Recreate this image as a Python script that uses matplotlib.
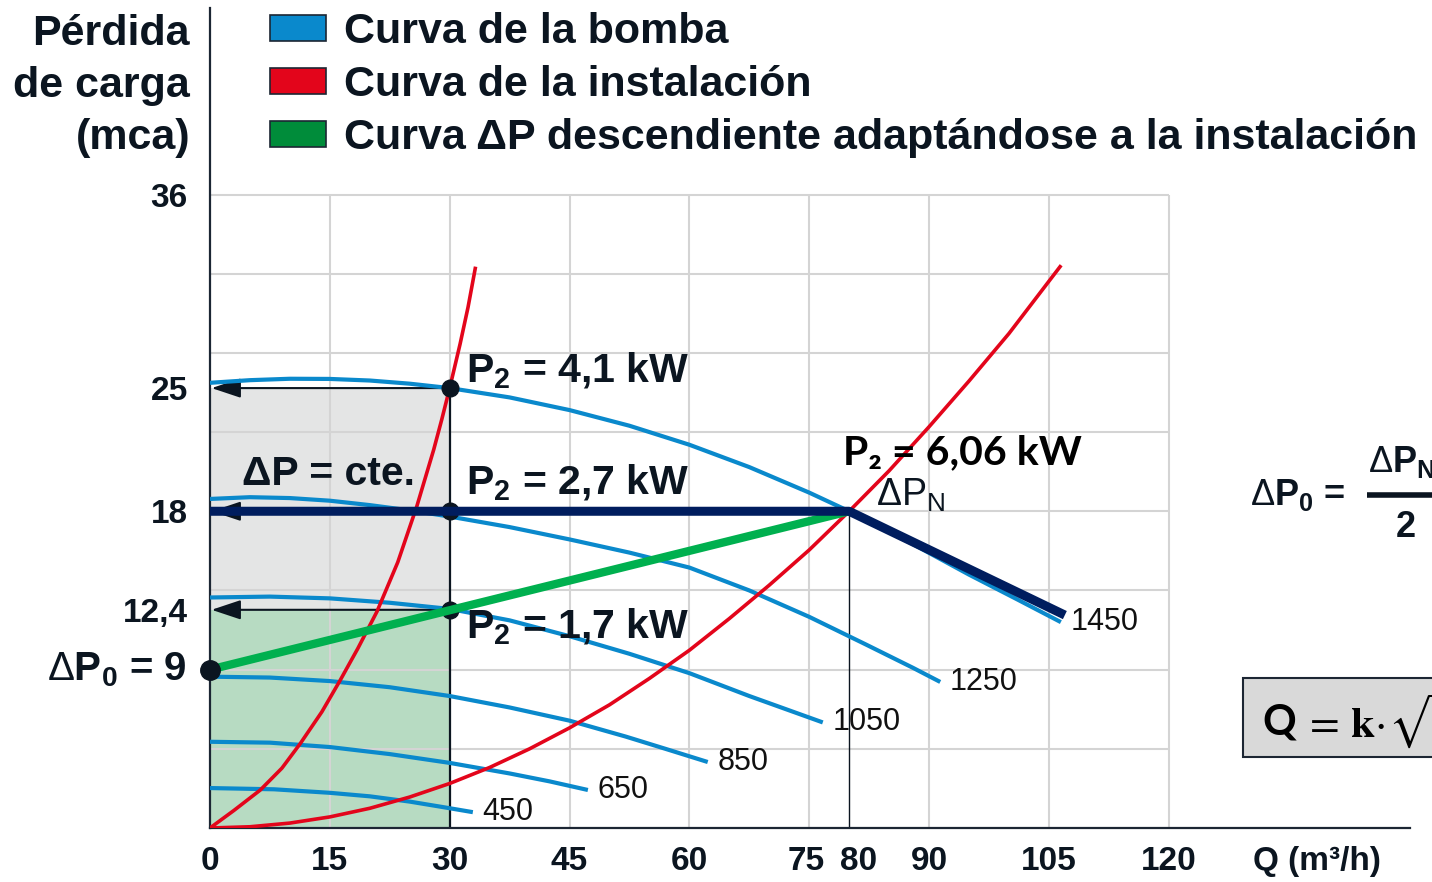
import matplotlib
matplotlib.use("Agg")
import matplotlib.pyplot as plt
from matplotlib.patches import Rectangle, Patch
from matplotlib.transforms import ScaledTranslation

plt.rcParams['font.family'] = ['Liberation Sans', 'DejaVu Sans']
plt.rcParams['mathtext.fontset'] = 'custom'
plt.rcParams['mathtext.rm'] = 'Liberation Sans'
plt.rcParams['mathtext.bf'] = 'Liberation Sans:bold'
plt.rcParams['mathtext.it'] = 'Liberation Sans:italic'

# ---------------- data ----------------
x_ticks = [0, 15, 30, 45, 60, 75, 80, 90, 105, 120]
y_ticks = [36, 25, 18, 12.4]
y_tick_labels = ["36", "25", "18", "12,4"]
grid_x = [15, 30, 45, 60, 75, 90, 105, 120]
grid_y = [4.5, 9, 13.5, 18, 22.5, 27, 31.5, 36]

# pump curves (rpm -> points)
pump_q_1450 = [0, 5, 10, 15, 20, 25, 30, 37.5, 45, 52.5, 60, 67.5, 75, 80, 87.5, 95, 101, 106.5]
pump_h_1450 = [25.3, 25.45, 25.53, 25.52, 25.43, 25.25, 25.0, 24.47, 23.75, 22.86, 21.78,
               20.51, 19.06, 18.0, 16.25, 14.4, 13.0, 11.7]
pump_q_1250 = [0, 5, 10, 15, 20, 25, 30, 37.5, 45, 52.5, 60, 67.5, 75, 82, 88, 91.4]
pump_h_1250 = [18.7, 18.8, 18.75, 18.6, 18.35, 18.05, 17.7, 17.1, 16.4, 15.65, 14.8,
               13.5, 12.0, 10.45, 9.1, 8.3]
pump_q_1050 = [0, 7.5, 15, 22.5, 30, 37.5, 45, 52.5, 60, 67.5, 76.7]
pump_h_1050 = [13.1, 13.15, 13.05, 12.8, 12.45, 11.8, 10.9, 9.9, 8.8, 7.5, 6.0]
pump_q_850 = [0, 7.5, 15, 22.5, 30, 37.5, 45, 52, 57, 62.3]
pump_h_850 = [8.6, 8.55, 8.35, 8.0, 7.5, 6.85, 6.1, 5.2, 4.5, 3.75]
pump_q_650 = [0, 7.5, 15, 22.5, 30, 37.5, 42.5, 47.3]
pump_h_650 = [4.9, 4.85, 4.6, 4.2, 3.7, 3.1, 2.65, 2.16]
pump_q_450 = [0, 8, 15, 20, 25, 29, 32.9]
pump_h_450 = [2.27, 2.2, 2.0, 1.8, 1.5, 1.2, 0.9]
pump_labels = ["1450", "1250", "1050", "850", "650", "450"]

# installation curves
inst_q_a = [0, 3, 6.3, 9, 11.3, 14, 16.3, 18.5, 20.9, 23.5, 25.9, 28, 29, 30, 31.3, 32.3, 33.2]
inst_h_a = [0, 1.0, 2.16, 3.4, 4.8, 6.6, 8.4, 10.2, 12.3, 15.1, 18.3, 21.5, 23.2, 25.0,
            27.5, 29.6, 31.8]
inst_q_b = [0, 5, 10, 15, 20, 25, 30, 35, 40, 45, 50, 55, 60, 65, 70, 75, 80, 85, 90, 95,
            100, 106.4]
inst_h_b = [0, 0.07, 0.28, 0.63, 1.12, 1.76, 2.53, 3.44, 4.5, 5.69, 7.0, 8.5, 10.1, 11.9,
            13.8, 15.8, 18.0, 20.3, 22.8, 25.4, 28.1, 31.9]

# control curves
const_q = [0, 80, 107]
const_h = [18, 18, 12.1]
desc_q = [0, 80]
desc_h = [9, 18]

# operating points
op_q = [30, 30, 30]
op_h = [25, 18, 12.4]
op_labels = ["4,1", "2,7", "1,7"]
dp0 = 9
dpn_q, dpn_h = 80, 18

BLUE = '#0a89cc'
RED = '#e3051b'
NAVY = '#001d5e'
GREEN = '#00b04f'
DARK = '#0b1520'

fig = plt.figure(figsize=(14.32, 8.82), dpi=100)
ax = fig.add_axes([210 / 1432, 54 / 882, 1200 / 1432, 820 / 882])
ax.set_xlim(0, 150.2)
ax.set_ylim(0, 46.6)
for s in ['top', 'right']:
    ax.spines[s].set_visible(False)
for s in ['left', 'bottom']:
    ax.spines[s].set_color('#1c2633')
    ax.spines[s].set_linewidth(1.6)

# shaded areas
ax.add_patch(Rectangle((0, 0), op_q[0], op_h[0], fc='#e4e5e5', ec='none', zorder=0))
ax.add_patch(Rectangle((0, 0), op_q[2], op_h[2], fc='#b7dbc2', ec='none', zorder=0.5))

# grid
ax.vlines(grid_x, 0, 36, colors='#d4d4d4', lw=1.5, zorder=1)
ax.hlines(grid_y, 0, 120, colors='#d4d4d4', lw=1.5, zorder=1)

# guide lines
ax.vlines([op_q[0]], 0, op_h[0], colors=DARK, lw=1.6, zorder=2)
ax.vlines([dpn_q], 0, dpn_h, colors=DARK, lw=1.0, zorder=2)
for q, h in zip(op_q, op_h):
    ax.annotate('', xy=(0.2, h), xytext=(q, h),
                arrowprops=dict(arrowstyle='-|>,head_length=1.2,head_width=0.4',
                                mutation_scale=15, color=DARK, lw=1.5,
                                shrinkA=0, shrinkB=0), zorder=2)

# pump curves
pumps = [(pump_q_1450, pump_h_1450), (pump_q_1250, pump_h_1250),
         (pump_q_1050, pump_h_1050), (pump_q_850, pump_h_850),
         (pump_q_650, pump_h_650), (pump_q_450, pump_h_450)]
for (q, h), lab in zip(pumps, pump_labels):
    ax.plot(q, h, color=BLUE, lw=3, zorder=3, solid_capstyle='butt',
            solid_joinstyle='round')
    ax.text(q[-1] + 1.2, h[-1], lab, fontsize=22, ha='left', va='center',
            color='#111111', zorder=6)

# installation curves
ax.plot(inst_q_a, inst_h_a, color=RED, lw=2.6, zorder=3, solid_joinstyle='round')
ax.plot(inst_q_b, inst_h_b, color=RED, lw=2.6, zorder=3, solid_joinstyle='round')

# points (under the control lines)
ax.plot(op_q, op_h, 'o', color=DARK, ms=12, zorder=3.5)

# control curves
ax.plot(desc_q, desc_h, color=GREEN, lw=6, zorder=4, solid_capstyle='butt')
ax.plot(const_q, const_h, color=NAVY, lw=6.5, zorder=4, solid_capstyle='butt')

ax.plot([0], [dp0], 'o', color=DARK, ms=14, zorder=5, clip_on=False)

# operating-point labels
for q, h, lab, dy in zip(op_q, op_h, op_labels, [0.95, 1.6, -1.0]):
    ax.text(q + 2.1, h + dy, r'$\mathbf{P_2}$ = ' + lab + ' kW', fontsize=29.5,
            fontweight='bold', ha='left', va='center', color=DARK, zorder=6)
ax.text(79.2, 21.3, 'P₂ = 6,06 kW', fontsize=29.5, fontweight='bold',
        family=['Lato', 'DejaVu Sans'], ha='left', va='center', color='black', zorder=6)
ax.text(83.3, 18.9, r'$\Delta\mathrm{P}_\mathrm{N}$', fontsize=27, ha='left',
        va='center', color=DARK, zorder=6)
ax.text(4.0, 20.1, 'ΔP = cte.', fontsize=29.5, fontweight='bold', ha='left',
        va='center', color=DARK, zorder=6)
ax.text(-2.9, dp0, r'$\Delta\mathbf{P_0}$ = 9', fontsize=29, fontweight='bold',
        ha='right', va='center', color=DARK, clip_on=False)

# ticks
ax.set_xticks(x_ticks)
ax.set_xticklabels([str(v) for v in x_ticks])
ax.set_yticks(y_ticks)
ax.set_yticklabels(y_tick_labels)
ax.tick_params(axis='x', length=0, pad=13, labelsize=24, labelcolor=DARK)
ax.tick_params(axis='y', length=0, pad=16, labelsize=24, labelcolor=DARK)
for t in ax.get_xticklabels() + ax.get_yticklabels():
    t.set_fontweight('bold')
for t, v in zip(ax.get_xticklabels(), x_ticks):
    if v == 80:
        t.set_transform(t.get_transform() + ScaledTranslation(7 / 72, 0, fig.dpi_scale_trans))
    if v == 75:
        t.set_transform(t.get_transform() + ScaledTranslation(-2 / 72, 0, fig.dpi_scale_trans))
ax.text(138.5, -1.9, 'Q (m³/h)', fontsize=24, fontweight='bold', ha='center',
        va='center', color=DARK, clip_on=False)

# y label
fig.text(190 / 1432, 1 - 86 / 882, 'Pérdida\nde carga\n(mca)', fontsize=31,
         fontweight='bold', ha='right', va='center', ma='right',
         linespacing=1.4, color=DARK)

# legend
handles = [Patch(fc=BLUE, ec='#1c2633', lw=1.2, label='Curva de la bomba'),
           Patch(fc=RED, ec='#1c2633', lw=1.2, label='Curva de la instalación'),
           Patch(fc='#008c3a', ec='#1c2633', lw=1.2,
                 label='Curva ΔP descendiente adaptándose a la instalación')]
leg = fig.legend(handles=handles, loc='upper left',
                 bbox_to_anchor=(270 / 1432, 1 - 12 / 882), frameon=False,
                 prop={'weight': 'bold', 'size': 31}, handlelength=1.3,
                 handleheight=0.56, handletextpad=0.42, labelspacing=0.3,
                 borderaxespad=0, borderpad=0)
for t in leg.get_texts():
    t.set_color(DARK)

# right-hand formulas
ax.text(130.2, 18.9, r'$\Delta\mathbf{P_0}$ =', fontsize=26, fontweight='bold',
        ha='left', va='center', color=DARK, clip_on=False)
ax.plot([144.8, 156], [18.9, 18.9], color=DARK, lw=4, clip_on=False,
        solid_capstyle='butt')
ax.text(145.0, 20.8, r'$\Delta\mathbf{P_N}$', fontsize=26, fontweight='bold',
        ha='left', va='center', color=DARK, clip_on=False)
ax.text(149.7, 17.1, '2', fontsize=26, fontweight='bold', ha='center',
        va='center', color=DARK, clip_on=False)
ax.add_patch(Rectangle((129.3, 4.04), 30, 4.49, fc='#d9d9d9', ec='#1c2633',
                       lw=1.5, clip_on=False, zorder=2))
ax.text(131.7, 6.0, 'Q', fontsize=30, fontweight='bold',
        family=['Lato', 'DejaVu Sans'], ha='left', va='center',
        color='black', clip_on=False, zorder=3)
ax.text(136.8, 6.1, r'$=\,\mathbf{k}\!\cdot\!\sqrt{\Delta \mathbf{P}}$',
        fontsize=31, math_fontfamily='stix', ha='left', va='center',
        color='black', clip_on=False, zorder=3)

fig.savefig('out.png', dpi=100)
